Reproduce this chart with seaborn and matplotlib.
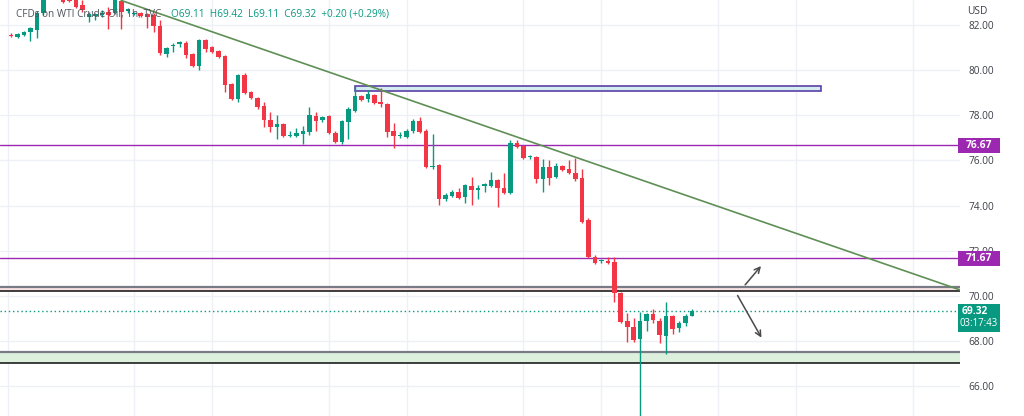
import numpy as np
import pandas as pd
import matplotlib
matplotlib.use("Agg")
import matplotlib.pyplot as plt
from matplotlib.patches import Rectangle
import seaborn as sns

# ---------------- data ----------------
opens = [81.54, 81.46, 81.55, 81.68, 81.77, 82.52, 83.30, 83.50, 83.19, 83.28,
         83.19, 82.88, 82.35, 82.39, 82.43, 82.57, 82.52, 83.05, 82.61, 82.48,
         82.52, 82.48, 82.43, 81.95, 80.71, 81.08, 81.17, 81.19, 80.71, 80.18,
         81.33, 81.02, 80.84, 80.62, 79.38, 78.72, 79.78, 79.03, 78.76, 78.41,
         77.79, 77.48, 77.61, 77.06, 77.08, 77.17, 77.26, 77.96, 77.79, 77.96,
         77.21, 76.81, 77.70, 78.19, 78.85, 78.72, 78.89, 78.58, 78.50, 77.30,
         77.06, 77.04, 77.30, 77.74, 77.30, 75.71, 75.80, 74.29, 74.42, 74.60,
         74.38, 74.87, 74.71, 74.89, 74.87, 75.13, 74.78, 74.56, 76.77, 76.64,
         76.13, 76.15, 75.18, 75.71, 75.27, 75.75, 75.62, 75.44, 75.22, 73.36,
         71.73, 71.53, 71.55, 71.50, 70.13, 68.89, 68.63, 68.10, 68.89, 69.20,
         68.89, 68.23, 69.12, 68.58, 68.80, 69.11]
highs = [81.62, 81.64, 81.72, 81.90, 82.61, 83.40, 83.70, 83.80, 83.40, 83.40,
         83.30, 83.10, 82.57, 82.52, 82.65, 82.79, 83.30, 83.08, 82.74, 82.57,
         82.57, 82.52, 82.52, 82.21, 81.02, 81.19, 81.28, 81.28, 80.75, 81.37,
         81.37, 81.06, 80.88, 80.66, 79.42, 79.82, 79.87, 79.07, 78.81, 78.58,
         78.14, 78.01, 77.65, 77.30, 77.43, 77.52, 78.36, 78.14, 77.96, 78.01,
         77.30, 77.79, 78.36, 79.29, 78.89, 79.12, 78.94, 79.20, 78.54, 77.65,
         77.26, 77.39, 77.83, 77.92, 77.39, 77.17, 75.84, 74.56, 74.69, 74.78,
         74.96, 75.27, 74.91, 75.00, 75.49, 75.18, 75.44, 76.90, 76.90, 76.68,
         76.24, 76.19, 76.06, 76.02, 75.88, 75.80, 76.02, 76.11, 75.62, 73.45,
         71.81, 71.64, 71.73, 71.73, 70.18, 69.25, 69.03, 69.29, 69.25, 69.42,
         69.03, 69.73, 69.16, 68.89, 69.20, 69.42]
lows = [81.45, 81.42, 81.50, 81.28, 81.42, 82.45, 83.20, 83.20, 82.96, 83.01,
        82.74, 82.57, 82.12, 82.21, 82.35, 81.81, 82.48, 81.81, 82.52, 82.43,
        82.35, 81.86, 81.68, 80.66, 80.58, 80.80, 81.02, 80.53, 80.13, 80.00,
        80.80, 80.75, 80.53, 79.03, 78.67, 78.58, 78.94, 78.72, 78.27, 77.48,
        77.26, 76.95, 77.04, 77.04, 77.04, 76.73, 77.12, 77.30, 77.70, 77.17,
        76.77, 76.73, 76.95, 78.14, 78.63, 78.58, 78.50, 78.36, 77.04, 76.55,
        76.99, 76.99, 77.21, 77.21, 75.66, 75.62, 74.03, 74.20, 74.38, 74.29,
        74.11, 74.03, 74.29, 74.60, 74.82, 73.94, 74.51, 74.51, 76.55, 76.06,
        76.06, 75.00, 74.60, 74.91, 75.22, 75.53, 75.40, 75.09, 73.23, 71.68,
        71.42, 71.46, 71.42, 69.73, 68.80, 67.96, 67.96, 64.30, 68.45, 68.80,
        67.92, 67.43, 68.32, 68.41, 68.67, 69.11]
closes = [81.52, 81.59, 81.68, 81.86, 82.52, 83.23, 83.50, 83.40, 83.01, 83.05,
          82.79, 82.65, 82.48, 82.46, 82.52, 82.43, 83.14, 82.57, 82.70, 82.52,
          82.39, 82.35, 81.95, 80.75, 80.97, 81.13, 81.22, 80.66, 80.18, 81.33,
          80.93, 80.80, 80.58, 79.34, 78.72, 79.78, 78.98, 78.76, 78.36, 77.79,
          77.48, 77.61, 77.08, 77.10, 77.21, 77.30, 78.01, 77.74, 77.92, 77.21,
          76.81, 77.74, 78.27, 78.85, 78.67, 78.94, 78.54, 78.50, 77.26, 77.08,
          77.10, 77.30, 77.74, 77.26, 75.71, 75.75, 74.29, 74.47, 74.60, 74.34,
          74.91, 74.69, 74.78, 74.93, 75.13, 74.78, 74.56, 76.77, 76.59, 76.11,
          76.17, 75.18, 75.71, 75.22, 75.75, 75.58, 75.44, 75.18, 73.27, 71.73,
          71.46, 71.57, 71.46, 70.13, 68.85, 68.63, 68.05, 68.89, 69.20, 68.94,
          68.27, 69.12, 68.54, 68.80, 69.12, 69.32]

y_ticks = [66, 68, 70, 72, 74, 76, 78, 80, 82]
level_lines = [76.67, 71.67]
last_price = 69.32
countdown = "03:17:43"
upper_zone = [70.22, 70.40]
lower_zone = [67.05, 67.51]
blue_box = [53, 124.9, 79.08, 79.31]          # x0, x1, y0, y1
trend_x = [17, 146.3]
trend_y = [83.08, 70.27]
arrow_up = [(112.9, 70.40), (115.9, 71.42)]
arrow_down = [(111.8, 70.13), (115.9, 68.05)]
vgrid = [-0.5, 19, 31, 49, 61, 79, 91, 109, 121, 139]
title_name = "CFDs on WTI Crude Oil, 1h, TVC"
title_ohlc = "O69.11  H69.42  L69.11  C69.32  +0.20 (+0.29%)"

# ---------------- style ----------------
sns.set_theme(style="white")
plt.rcParams['font.family'] = ['Open Sans', 'DejaVu Sans']

GREEN = "#089981"
RED = "#f23645"
PURPLE = "#9c27b0"
GRID = "#eef0f5"
TXT = "#3c3f48"

W, H = 1024, 416
YMIN, YMAX = 64.69, 83.10
fig = plt.figure(figsize=(W / 100, H / 100), dpi=100)
ax = fig.add_axes([0, 0, 960 / W, 1])
ax.set_xlim(-1.70, 146.3)
ax.set_ylim(YMIN, YMAX)

df = pd.DataFrame({"o": opens, "h": highs, "l": lows, "c": closes})
df["i"] = np.arange(len(df))
df["up"] = df["c"] >= df["o"]
df["color"] = np.where(df["up"], GREEN, RED)

# grid
for g in y_ticks:
    ax.axhline(g, color=GRID, lw=1, zorder=0)
for g in vgrid:
    ax.axvline(g, color=GRID, lw=1, zorder=0)

# zones
ax.axhspan(upper_zone[0], upper_zone[1], color="#fbe3e3", lw=0, zorder=1)
ax.axhline(upper_zone[1], color="#787b86", lw=1.6, zorder=2)
ax.axhline(upper_zone[0], color="#1e1e1e", lw=1.2, zorder=2)
ax.axhspan(lower_zone[0], lower_zone[1], color="#ddf0de", lw=0, zorder=1)
ax.axhline(lower_zone[1], color="#787b86", lw=1.6, zorder=2)
ax.axhline(lower_zone[0], color="#1e1e1e", lw=1.2, zorder=2)

# level lines
for lv in level_lines:
    ax.axhline(lv, color=PURPLE, lw=1, zorder=2)

# last price dotted line
ax.axhline(last_price, color=GREEN, lw=1, ls=(0, (1, 2)), zorder=2)

# blue rectangle
ax.add_patch(Rectangle((blue_box[0], blue_box[2]), blue_box[1] - blue_box[0],
                       blue_box[3] - blue_box[2], facecolor="#d3ecef",
                       edgecolor="#5b3fa6", lw=1.2, zorder=3))

# candles
ax.vlines(df["i"], df["l"], df["h"], colors=df["color"], lw=1, zorder=4)
body_lo = np.minimum(df["o"], df["c"])
body_h = np.maximum(np.abs(df["c"] - df["o"]), 0.045)
ax.bar(df["i"], body_h, bottom=body_lo, width=0.7, color=df["color"],
       lw=0, zorder=5)

# trend line
trend = pd.DataFrame({"x": trend_x, "y": trend_y})
sns.lineplot(data=trend, x="x", y="y", ax=ax, color="#5e8f55", lw=1.2,
             zorder=6)

# arrows
for a in (arrow_up, arrow_down):
    ax.annotate("", xy=a[1], xytext=a[0],
                arrowprops=dict(arrowstyle="->", color="#4a4a4a", lw=1.1,
                                mutation_scale=10), zorder=7)

ax.set_xlabel("")
ax.set_ylabel("")
ax.set_xticks([])
ax.yaxis.tick_right()
ax.set_yticks(y_ticks)
ax.set_yticklabels([f"{v:.2f}" for v in y_ticks], color=TXT, fontsize=7.3)
ax.tick_params(axis="y", length=0, pad=6)
for s in ax.spines.values():
    s.set_visible(False)

# title
fig.text(16 / W, 1 - 14 / H, title_name, color="#4f525b", fontsize=7.2,
         va="center", ha="left")
fig.text(171 / W, 1 - 14 / H, title_ohlc, color=GREEN, fontsize=7.2,
         va="center", ha="left")

# USD header (covers top of 82.00)
fig.patches.append(Rectangle((960 / W, 1 - 19 / H), 64 / W, 19 / H,
                             transform=fig.transFigure, facecolor="white",
                             edgecolor="none", zorder=5))
fig.text(967 / W, 1 - 12 / H, "USD", color=TXT, fontsize=7.3, va="center",
         ha="left", zorder=6)


def yfig(v):
    return (v - YMIN) / (YMAX - YMIN)


BOX_X0, BOX_W = 958 / W, 42 / W
for lv in level_lines:
    yc = yfig(lv)
    fig.patches.append(Rectangle((BOX_X0, yc - 7.5 / H), BOX_W, 15 / H,
                                 transform=fig.transFigure, facecolor=PURPLE,
                                 edgecolor="none", zorder=8))
    fig.text(BOX_X0 + BOX_W / 2, yc, f"{lv:.2f}", color="white", fontsize=7.3,
             fontweight="bold", va="center", ha="center", zorder=9)

fig.patches.append(Rectangle((BOX_X0, 1 - 332 / H), BOX_W, 28 / H,
                             transform=fig.transFigure, facecolor=GREEN,
                             edgecolor="none", zorder=8))
fig.text(BOX_X0 + 4 / W, 1 - 311 / H, f"{last_price:.2f}", color="white",
         fontsize=7.3, fontweight="bold", va="center", ha="left", zorder=9)
fig.text(BOX_X0 + BOX_W / 2, 1 - 324 / H, countdown, color="white",
         fontsize=6.9, va="center", ha="center", zorder=9)

fig.savefig("out.png", dpi=100)
